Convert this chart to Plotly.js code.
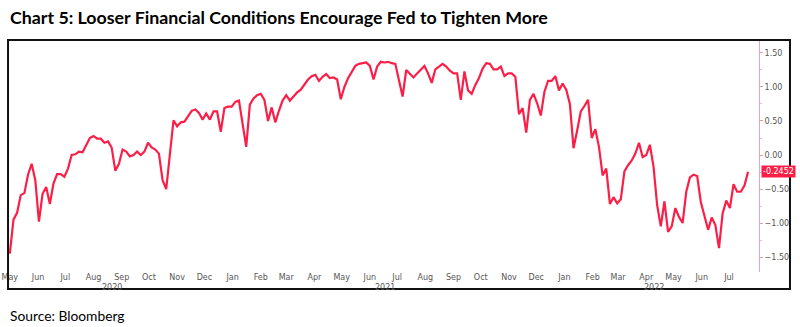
<!DOCTYPE html>
<html>
<head>
<meta charset="utf-8">
<script src="https://cdn.plot.ly/plotly-3.0.1.min.js"></script>
<style>
  html, body { margin: 0; padding: 0; background: #fff; }
  #chart { width: 800px; height: 327px; }
</style>
</head>
<body>
<div id="chart"></div>
<script>
// Series sampled every 4 days starting 2020-05-01
const startDate = '2020-05-01';
const stepDays = 4;

const fci2020 = [
  -1.45, -0.95, -0.85, -0.59, -0.56, -0.29, -0.13, -0.37, -0.98, -0.57,
  -0.47, -0.72, -0.42, -0.28, -0.28, -0.32, -0.20, 0.00, 0.01, 0.05,
  0.04, 0.15, 0.25, 0.28, 0.24, 0.24, 0.18, 0.20, 0.11, -0.23,
  -0.13, 0.08, 0.05, -0.02, 0.00, 0.05, 0.00, 0.05, 0.18, 0.11,
  0.08, 0.02, -0.37, -0.50, 0.02, 0.51, 0.42, 0.48, 0.49, 0.57,
  0.65, 0.67, 0.62, 0.52, 0.61, 0.52, 0.64, 0.64, 0.34, 0.69,
  0.71, 0.71
];
const fci2021 = [
  0.78, 0.80, 0.49, 0.12, 0.74, 0.83, 0.88, 0.90, 0.81, 0.50,
  0.70, 0.48, 0.65, 0.80, 0.88, 0.80, 0.86, 0.92, 0.96, 1.04,
  1.11, 1.16, 1.18, 1.09, 1.15, 1.19, 1.13, 1.14, 1.11, 0.82,
  1.00, 1.13, 1.23, 1.31, 1.34, 1.35, 1.36, 1.31, 1.11, 1.30,
  1.37, 1.36, 1.37, 1.35, 1.34, 1.10, 0.86, 1.25, 1.20, 1.14,
  1.20, 1.25, 1.31, 1.20, 1.06, 1.26, 1.30, 1.34, 1.30, 1.24,
  1.20, 1.20, 0.81, 1.23, 0.95, 0.90, 1.03, 1.13, 1.27, 1.35,
  1.34, 1.26, 1.26, 1.30, 1.16, 1.20, 1.20, 1.15, 0.60, 0.69,
  0.33, 0.81, 0.90, 0.76, 0.58, 0.93, 1.09, 1.09, 1.16, 0.95,
  1.05
];
const fci2022 = [
  0.96, 0.75, 0.10, 0.36, 0.64, 0.72, 0.81, 0.25, 0.38, 0.12,
  -0.30, -0.20, -0.72, -0.62, -0.71, -0.65, -0.24, -0.15, -0.08, 0.02,
  0.18, -0.03, 0.00, 0.15, -0.17, -0.74, -1.05, -0.68, -1.13, -1.05,
  -0.78, -0.91, -1.00, -0.54, -0.33, -0.29, -0.31, -0.69, -0.88, -1.10,
  -0.92, -1.03, -1.37, -0.86, -0.67, -0.78, -0.43, -0.54, -0.54, -0.45,
  -0.2452
];

const monthNames = ['Jan','Feb','Mar','Apr','May','Jun','Jul','Aug','Sep','Oct','Nov','Dec'];
const firstMonthTick = '2020-05-01';
const lastMonthTick = '2022-07-01';
const yearLabels = ['2020', '2021', '2022'];
const yearLabelDates = ['2020-08-21', '2021-06-18', '2022-04-10'];
const yTickVals = [-1.5, -1.0, -0.5, 0.0, 0.5, 1.0, 1.5];

const values = fci2020.concat(fci2021, fci2022);
const dates = values.map((v, i) => {
  const d = new Date(startDate + 'T00:00:00Z');
  d.setUTCDate(d.getUTCDate() + i * stepDays);
  return d.toISOString().slice(0, 10);
});
const lastValue = values[values.length - 1];

// monthly tick positions (month starts) and their labels
const xTickVals = [], xTickText = [];
{
  const d = new Date(firstMonthTick + 'T00:00:00Z');
  const end = new Date(lastMonthTick + 'T00:00:00Z');
  while (d <= end) {
    xTickVals.push(d.toISOString().slice(0, 10));
    xTickText.push(monthNames[d.getUTCMonth()]);
    d.setUTCMonth(d.getUTCMonth() + 1);
  }
}

const lineColor = '#fb1f48';
const tickFont = { family: 'DejaVu Sans, Verdana, sans-serif', size: 8, color: '#555' };

const trace = {
  x: dates, y: values, type: 'scatter', mode: 'lines',
  line: { color: lineColor, width: 2.2 },
  hoverinfo: 'skip'
};

const annotations = yearLabels.map((t, k) => ({
  text: t, x: yearLabelDates[k], xref: 'x', y: 0, yref: 'paper',
  yanchor: 'middle', yshift: -15, showarrow: false, font: tickFont
}));
annotations.push({
  text: lastValue.toFixed(4), x: 1, xref: 'paper', y: lastValue, yref: 'y',
  xanchor: 'left', yanchor: 'middle', xshift: 2, showarrow: false,
  bgcolor: lineColor, borderpad: 1,
  font: { family: 'DejaVu Sans, Verdana, sans-serif', size: 8, color: '#fff' }
});
annotations.push({
  text: '<b>Chart 5: Looser Financial Conditions Encourage Fed to Tighten More</b>',
  x: -0.001, xref: 'paper', xanchor: 'left', y: 1.0, yref: 'paper', yanchor: 'middle',
  yshift: 24, showarrow: false,
  font: { family: 'Lato, Open Sans, sans-serif', size: 17.8, color: '#000' }
});
annotations.push({
  text: 'Source: Bloomberg',
  x: -0.001, xref: 'paper', xanchor: 'left', y: 0, yref: 'paper', yanchor: 'middle',
  yshift: -43, showarrow: false,
  font: { family: 'Lato, Open Sans, sans-serif', size: 13.8, color: '#000' }
});

const layout = {
  width: 800, height: 327,
  margin: { l: 9, r: 41, t: 41, b: 55 },
  paper_bgcolor: '#fff', plot_bgcolor: '#fff',
  showlegend: false,
  xaxis: {
    type: 'date',
    range: ['2020-04-30 02:00', '2022-08-03'],
    tickmode: 'array', tickvals: xTickVals, ticktext: xTickText,
    ticks: '', showgrid: false, zeroline: false, showline: false,
    tickfont: tickFont, ticklabelstandoff: -1
  },
  yaxis: {
    side: 'right', range: [-1.72, 1.676],
    tickvals: yTickVals, tickformat: '.2f',
    ticks: 'outside', ticklen: 3, tickcolor: '#d9a0ac',
    showline: true, linecolor: '#f2a3b3', linewidth: 1,
    showgrid: false, zeroline: false, tickfont: tickFont,
    minor: { dtick: 0.25, ticks: 'outside', ticklen: 2, tickcolor: '#f2b8c4' }
  },
  shapes: [{
    type: 'rect', xref: 'paper', yref: 'paper',
    x0: -0.0013, x1: 1.0413, y0: -0.0736, y1: 1.0043,
    line: { color: '#111', width: 2 }, fillcolor: 'rgba(0,0,0,0)'
  }],
  annotations: annotations
};

Plotly.newPlot('chart', [trace], layout, { displayModeBar: false, staticPlot: true });
</script>
</body>
</html>
